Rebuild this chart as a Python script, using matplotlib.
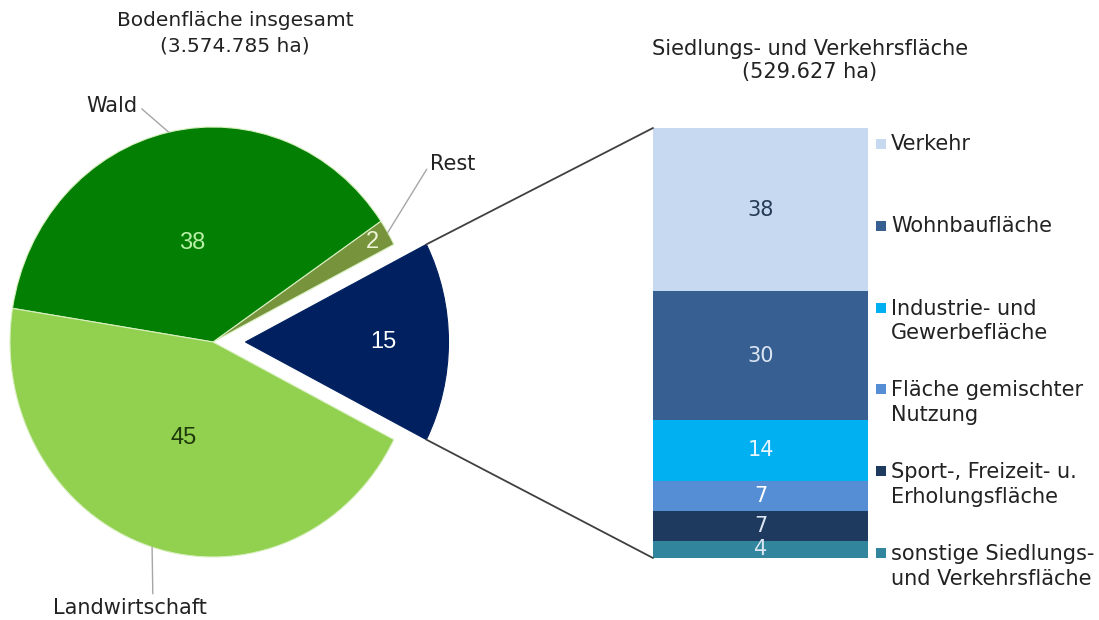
import numpy as np
import matplotlib
matplotlib.use("Agg")
import matplotlib.pyplot as plt
from matplotlib.patches import ConnectionPatch, Rectangle

# --- data ---
pie_labels = ["Siedlung", "Rest", "Wald", "Landwirtschaft"]
pie_values = [15, 2, 38, 45]
pie_colors = ["#002060", "#77933c", "#038003", "#92d050"]
pie_text_colors = ["#ffffff", "#eef4d8", "#b8f0a8", "#1e3a0a"]

bar_labels = ["Verkehr", "Wohnbaufläche", "Industrie- und\nGewerbefläche",
              "Fläche gemischter\nNutzung", "Sport-, Freizeit- u.\nErholungsfläche",
              "sonstige Siedlungs-\nund Verkehrsfläche"]
bar_values = [38, 30, 14, 7, 7, 4]
bar_colors = ["#c6d9f1", "#375f92", "#00b0f0", "#558ed5", "#1f3a5f", "#31859c"]
bar_text_colors = ["#253a55", "#dce6f2", "#e8f6ff", "#ffffff", "#dce6f2", "#dce6f2"]

W, H = 1099, 620
fig = plt.figure(figsize=(W/100, H/100), dpi=100)

# pie axes: centre (213,342) px, radii 203 x 215 px
cx, cy, rx, ry = 213, 342, 203, 215
x0, x1, y0, y1 = -1.05, 1.3, -1.05, 1.05
axp = fig.add_axes([(cx + x0*rx)/W, (H - cy + y0*ry)/H, (x1 - x0)*rx/W, (y1 - y0)*ry/H])
explode = [0.16, 0, 0, 0]
wedges, _ = axp.pie(pie_values, colors=pie_colors, explode=explode, startangle=-27,
                    counterclock=True, radius=1.0,
                    wedgeprops=dict(edgecolor="#d8f0c0", linewidth=0.8))
wedges[0].set_edgecolor(pie_colors[0])
axp.set_aspect("auto")
axp.set_xlim(x0, x1)
axp.set_ylim(y0, y1)
axp.axis("off")

pct_dist = [0.68, 0.91, 0.47, 0.47]
for w, v, d, tc, e in zip(wedges, pie_values, pct_dist, pie_text_colors, explode):
    a = np.deg2rad((w.theta1 + w.theta2) / 2)
    axp.text((d + e) * np.cos(a), (d + e) * np.sin(a), str(v), ha="center", va="center",
             color=tc, fontsize=17, family="Liberation Sans")

lead = dict(arrowstyle="-", color="#a6a6a6", lw=1.0, shrinkA=1, shrinkB=0)
def edge_pt(w):
    a = np.deg2rad((w.theta1 + w.theta2) / 2)
    return (np.cos(a), np.sin(a))

axp.annotate("Wald", xy=edge_pt(wedges[2]), xytext=(-0.37, 1.10), ha="right", va="center",
             fontsize=15, color="#222222",
             arrowprops=dict(lead, relpos=(1, 0.5)))
axp.annotate("Rest", xy=edge_pt(wedges[1]), xytext=(1.07, 0.83), ha="left", va="center",
             fontsize=15, color="#222222",
             arrowprops=dict(lead, relpos=(0, 0.5)))
axp.annotate("Landwirtschaft", xy=(-0.30, -0.954), xytext=(-0.41, -1.237), ha="center", va="center",
             fontsize=15, color="#222222",
             arrowprops=dict(lead, relpos=(0.65, 1)))

fig.text(235/W, 1 - 21/H, "Bodenfläche insgesamt", ha="center", va="center", fontsize=14.5, color="#222222")
fig.text(235/W, 1 - 46/H, "(3.574.785 ha)", ha="center", va="center", fontsize=14.5, color="#222222")

# bar axes
bl, bt, br, bb = 653, 128, 868, 558
axb = fig.add_axes([bl/W, (H - bb)/H, (br - bl)/W, (bb - bt)/H])
bottoms = 100 - np.cumsum(bar_values)
for v, b, c, tc in zip(bar_values, bottoms, bar_colors, bar_text_colors):
    axb.bar(0, v, bottom=b, width=1.0, color=c, edgecolor="none")
    axb.text(0, b + v/2, str(v), ha="center", va="center", fontsize=15, color=tc)
axb.set_xlim(-0.5, 0.5)
axb.set_ylim(0, 100)
axb.axis("off")

fig.text(810/W, 1 - 49/H, "Siedlungs- und Verkehrsfläche", ha="center", va="center", fontsize=15, color="#222222")
fig.text(810/W, 1 - 72/H, "(529.627 ha)", ha="center", va="center", fontsize=15, color="#222222")

# legend entries, evenly spread next to the bar
n = len(bar_labels)
fs = 15
line_px = fs * 100 / 72 * 1.28
for i, (lab, c) in enumerate(zip(bar_labels, bar_colors)):
    yc = 144 + i * (553 - 144) / (n - 1)
    lines = lab.count("\n") + 1
    fig.patches.append(Rectangle((876/W, 1 - (yc + 5)/H), 10/W, 10/H, transform=fig.transFigure,
                                 facecolor=c, edgecolor="none"))
    ty = yc + (lines - 1) * line_px / 2
    fig.text(891/W, 1 - ty/H, lab, ha="left", va="center", fontsize=fs,
             color="#222222", linespacing=1.28)

# connector lines from the exploded wedge to the bar
w0 = wedges[0]
ex = explode[0]
for th, ybar in [(w0.theta2, 100), (w0.theta1, 0)]:
    a = np.deg2rad(th)
    con = ConnectionPatch(xyA=(ex + np.cos(a), np.sin(a)), coordsA=axp.transData,
                          xyB=(-0.5, ybar), coordsB=axb.transData,
                          color="#404040", lw=1.3)
    fig.add_artist(con)

fig.savefig("out.png", dpi=100, facecolor="white")
